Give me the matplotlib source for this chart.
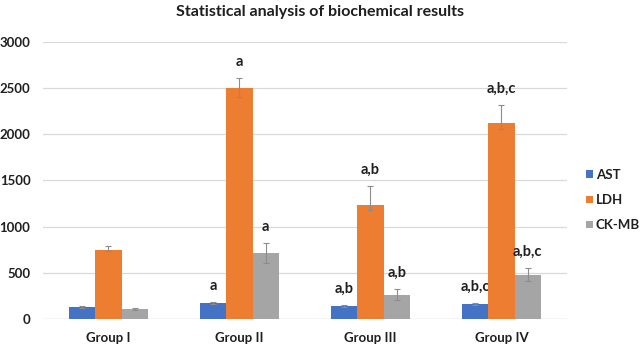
import matplotlib
matplotlib.use("Agg")
import matplotlib.pyplot as plt
import numpy as np
from matplotlib.patches import Patch

plt.rcParams['font.family'] = ['Lato', 'DejaVu Sans']

groups = ["Group I", "Group II", "Group III", "Group IV"]
series = ["AST", "LDH", "CK-MB"]
colors = ["#4472C4", "#ED7D31", "#A5A5A5"]

ast = [130, 173, 141, 163]
ldh = [748, 2505, 1235, 2123]
ckmb = [108, 715, 260, 477]

ast_err_lo = [8, 8, 8, 8]
ast_err_hi = [10, 12, 10, 12]
ldh_err_lo = [15, 100, 55, 65]
ldh_err_hi = [42, 105, 205, 195]
ckmb_err_lo = [10, 108, 54, 65]
ckmb_err_hi = [12, 108, 65, 75]

ast_lbl = ["", "a", "a,b", "a,b,c"]
ldh_lbl = ["", "a", "a,b", "a,b,c"]
ckmb_lbl = ["", "a", "a,b", "a,b,c"]

values = [ast, ldh, ckmb]
errs = [(ast_err_lo, ast_err_hi), (ldh_err_lo, ldh_err_hi), (ckmb_err_lo, ckmb_err_hi)]
labels = [ast_lbl, ldh_lbl, ckmb_lbl]

W = 'bold'
fig = plt.figure(figsize=(6.41, 3.48), dpi=100)
ax = fig.add_axes([43/641, 1-319/348, (567-43)/641, (319-42)/348])

x = np.arange(len(groups))
w = 0.2
for i, (vals, (lo, hi), lbls, c) in enumerate(zip(values, errs, labels, colors)):
    xs = x + (i - 1) * w
    ax.bar(xs, vals, width=w, color=c, zorder=3)
    ax.errorbar(xs, vals, yerr=[lo, hi], fmt='none', ecolor='#8C8C8C',
                elinewidth=0.8, capsize=2.5, capthick=0.8, zorder=4)
    for xi, v, h, t in zip(xs, vals, hi, lbls):
        if t:
            ax.annotate(t, (xi, v + h), xytext=(0, 8.5), textcoords='offset points',
                        ha='center', va='baseline', fontsize=10.5, fontweight=W,
                        color='#1f1f1f')

ax.set_xlim(-0.5, 3.5)
ax.set_ylim(0, 3000)
ax.set_yticks([0, 500, 1000, 1500, 2000, 2500, 3000])
ax.set_xticks(x)
ax.set_xticklabels(groups)
for s in ax.spines.values():
    s.set_visible(False)
ax.yaxis.grid(True, color='#D9D9D9', linewidth=0.9, zorder=0)
ax.set_axisbelow(True)
ax.axhline(0, color='#D9D9D9', linewidth=0.9, zorder=1)
ax.tick_params(axis='both', length=0, labelsize=9.5, colors='#1f1f1f')
ax.tick_params(axis='y', pad=9)
ax.tick_params(axis='x', pad=9)
for lab in ax.get_xticklabels() + ax.get_yticklabels():
    lab.set_fontweight(W)

fig.text(0.5, 1-12/348, "Statistical analysis of biochemical results", ha='center',
         va='center', fontsize=11.5, fontweight=W, color='#1f1f1f')

handles = [Patch(facecolor=c, edgecolor='none', label=s) for s, c in zip(series, colors)]
leg = fig.legend(handles=handles, loc='center left', bbox_to_anchor=(586/641, 1-200/348),
                 frameon=False, fontsize=9.5, handlelength=0.5, handleheight=0.5,
                 handletextpad=0.25, labelspacing=1.0, borderpad=0, borderaxespad=0)
for t in leg.get_texts():
    t.set_fontweight(W)
    t.set_color('#1f1f1f')

fig.savefig("out.png", dpi=100)
